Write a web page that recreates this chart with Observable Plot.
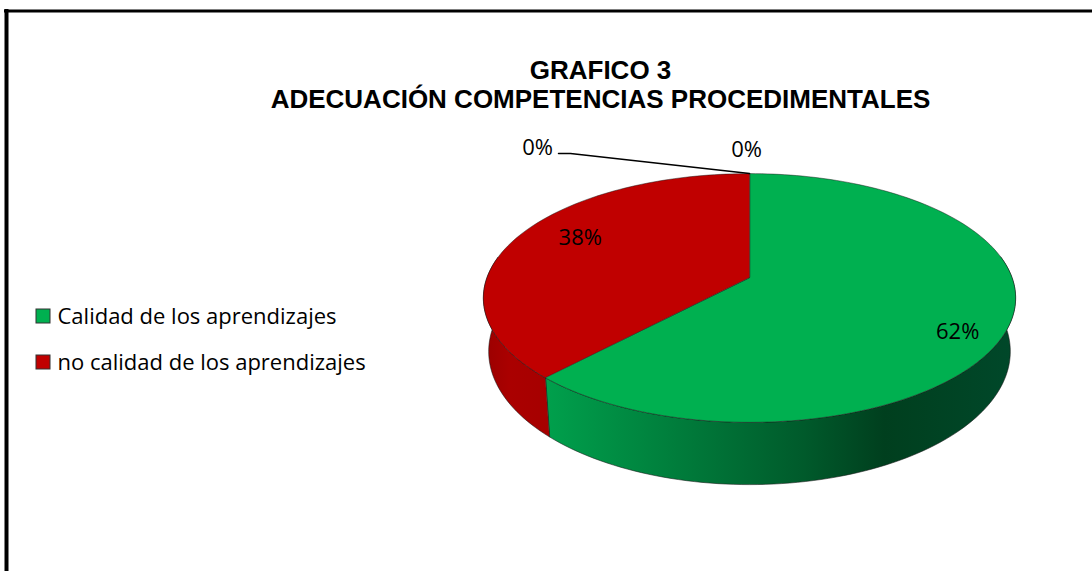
<!DOCTYPE html>
<html>
<head>
<meta charset="utf-8">
<script src="https://cdn.jsdelivr.net/npm/d3@7"></script>
<script src="https://cdn.jsdelivr.net/npm/@observablehq/plot@0.6"></script>
<style>
  html, body { margin: 0; padding: 0; background: #fff; }
  #chart svg { display: block; }
</style>
</head>
<body>
<div id="chart"></div>
<script>
// ---- data ----
const titleLines = ["GRAFICO 3", "ADECUACIÓN COMPETENCIAS PROCEDIMENTALES"];
const categories = ["Calidad de los aprendizajes", "no calidad de los aprendizajes"];
const values = [62, 38];            // percent
const emptyPoints = [0, 0];         // two empty points labelled 0%
const topColors = ["#00b050", "#c00000"];

// ---- layout / projection (3D perspective pie) ----
const W = 1092, H = 571;
const cx = 749, cy = 277, A = 262.5, B = 121, K = 0.1647, DEPTH = 52;
const total = d3.sum(values) + d3.sum(emptyPoints);
const toRad = Math.PI / 180;

function proj(phiDeg, r = 1, drop = 0) {
  const p = phiDeg * toRad;
  const u = r * Math.sin(p), v = -r * Math.cos(p);
  const w = 1 - K * v;
  return {x: cx + (A * u / w) * (1 - 0.02 * drop), y: cy + B * v / w + DEPTH * drop / w};
}
function arc(a0, a1, r = 1, drop = 0) {
  const n = Math.max(2, Math.ceil(Math.abs(a1 - a0) / 1.5));
  return d3.range(n + 1).map(i => proj(a0 + (a1 - a0) * i / n, r, drop));
}

// slice angles (clockwise from 12 o'clock)
let acc = 0;
const slices = values.map((v, i) => {
  const a0 = acc / total * 360; acc += v; const a1 = acc / total * 360;
  return {i, v, a0, a1, mid: (a0 + a1) / 2};
});

const topPolys = slices.map(s => [{x: cx, y: cy}, ...arc(s.a0, s.a1)]);
const sidePolys = slices.map(s => {
  const b0 = Math.max(s.a0, 80), b1 = Math.min(s.a1, 280);
  if (b1 <= b0) return [];
  return [...arc(b0, b1, 1, 0), ...arc(b1, b0, 1, 1)];
});

// label positions derived from slice mid-angles
const labelTweak = [{dx: 3, dy: 17}, {dx: 17, dy: -6}];
const labels = slices.map(s => {
  const p = proj(s.mid, 0.8);
  return {x: p.x + labelTweak[s.i].dx, y: p.y + labelTweak[s.i].dy, text: s.v + "%"};
});
const topPt = proj(0);
const zeroLabels = emptyPoints.map((v, i) => i === 0
  ? {x: topPt.x - 212, y: topPt.y - 26, text: v + "%"}
  : {x: topPt.x - 3, y: topPt.y - 24, text: v + "%"});
const leader = [{x: topPt.x - 191, y: topPt.y - 20}, {x: topPt.x - 179, y: topPt.y - 20}, topPt];

const legend = categories.map((c, i) => ({c, i, y: 316 + i * 46}));

const gradientDefs = (index, scales) => {
  const defs = d3.create("svg:defs");
  const g = defs.append("linearGradient").attr("id", "gside")
    .attr("gradientUnits", "userSpaceOnUse")
    .attr("x1", scales.x(545)).attr("x2", scales.x(1016)).attr("y1", 0).attr("y2", 0);
  [[0, "#00a04c"], [0.3, "#007a3a"], [0.55, "#005a2b"], [0.72, "#003f1e"], [1, "#00482a"]]
    .forEach(([o, c]) => g.append("stop").attr("offset", o).attr("stop-color", c));
  const r = defs.append("linearGradient").attr("id", "rside")
    .attr("gradientUnits", "userSpaceOnUse")
    .attr("x1", scales.x(483)).attr("x2", scales.x(548)).attr("y1", 0).attr("y2", 0);
  [[0, "#9a0000"], [0.4, "#aa0000"], [1, "#a60000"]]
    .forEach(([o, c]) => r.append("stop").attr("offset", o).attr("stop-color", c));
  return defs.node();
};
const sideFills = ["url(#gside)", "url(#rside)"];

const chart = Plot.plot({
  width: W, height: H, margin: 0,
  x: {domain: [0, W], range: [0, W], axis: null},
  y: {domain: [0, H], range: [0, H], axis: null},
  style: {background: "#fff", overflow: "visible"},
  marks: [
    gradientDefs,
    // frame (left and top border)
    Plot.ruleX([6], {y1: 9, y2: H, stroke: "#000", strokeWidth: 4}),
    Plot.ruleY([10.5], {x1: 4, x2: W, stroke: "#000", strokeWidth: 3}),
    // title
    Plot.text(titleLines, {x: () => 600, y: (d, i) => 70 + i * 29, text: d => d,
      fontFamily: "Liberation Sans, Arial, sans-serif", fontWeight: "bold", fontSize: 26, fill: "#000"}),
    // pie sides
    ...sidePolys.map((pts, i) => Plot.line(pts, {x: "x", y: "y", curve: "linear-closed",
      fill: sideFills[i], stroke: "#1a1a1a", strokeWidth: 0.8, strokeOpacity: 0.7})),
    // pie top faces
    ...topPolys.map((pts, i) => Plot.line(pts, {x: "x", y: "y", curve: "linear-closed",
      fill: topColors[i], stroke: "#1a1a1a", strokeWidth: 0.8, strokeOpacity: 0.6})),
    // leader line for 0%
    Plot.line(leader, {x: "x", y: "y", stroke: "#000", strokeWidth: 1.5}),
    // data labels
    Plot.text(labels, {x: "x", y: "y", text: "text", fontFamily: "Open Sans", fontSize: 22, fill: "#000"}),
    Plot.text(zeroLabels, {x: "x", y: "y", text: "text", fontFamily: "Open Sans", fontSize: 22, fill: "#000"}),
    // legend
    Plot.rect(legend, {x1: () => 36, x2: () => 50, y1: d => d.y - 7, y2: d => d.y + 7,
      fill: d => topColors[d.i], stroke: "#333", strokeWidth: 1}),
    Plot.text(legend, {x: () => 57, y: "y", text: "c", textAnchor: "start",
      fontFamily: "Open Sans", fontSize: 22, fill: "#000"})
  ]
});
document.getElementById("chart").appendChild(chart);
</script>
</body>
</html>
